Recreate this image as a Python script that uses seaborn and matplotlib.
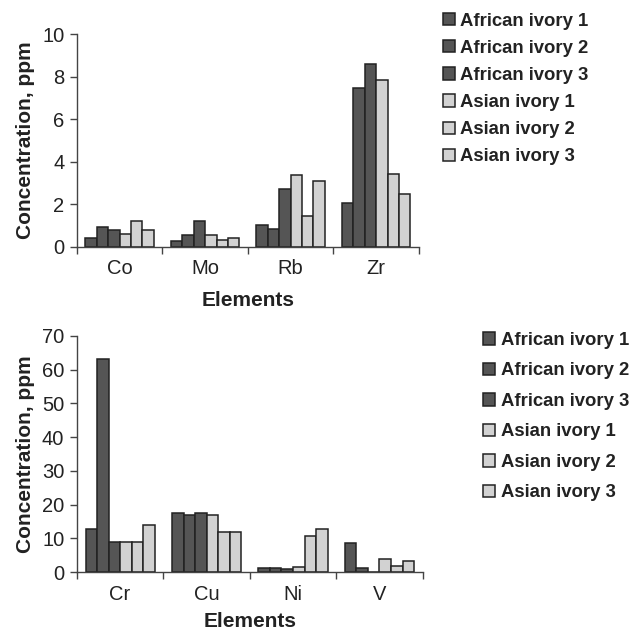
import numpy as np
import pandas as pd
import matplotlib
matplotlib.use("Agg")
import matplotlib.pyplot as plt
import seaborn as sns

sns.set_theme(style="white")
plt.rcParams["font.family"] = ["Liberation Sans", "DejaVu Sans"]

samples = ["African ivory 1", "African ivory 2", "African ivory 3",
           "Asian ivory 1", "Asian ivory 2", "Asian ivory 3"]

# Trace elements (upper panel)
elements_low = ["Co", "Mo", "Rb", "Zr"]
low_african_1 = [0.44, 0.27, 1.02, 2.07]
low_african_2 = [0.94, 0.58, 0.83, 7.45]
low_african_3 = [0.78, 1.21, 2.74, 8.57]
low_asian_1 = [0.63, 0.58, 3.39, 7.82]
low_asian_2 = [1.21, 0.34, 1.44, 3.43]
low_asian_3 = [0.78, 0.44, 3.12, 2.51]

# Higher-concentration elements (lower panel)
elements_high = ["Cr", "Cu", "Ni", "V"]
high_african_1 = [12.9, 17.6, 1.2, 8.6]
high_african_2 = [63.0, 16.9, 1.2, 1.1]
high_african_3 = [8.9, 17.6, 0.8, 0.0]
high_asian_1 = [8.9, 16.8, 1.6, 3.8]
high_asian_2 = [8.9, 12.0, 10.7, 1.9]
high_asian_3 = [13.9, 12.0, 12.9, 3.4]

dark = "#555555"
light = "#d2d2d2"
palette = [dark, dark, dark, light, light, light]


def long_table(elements, series):
    rows = []
    for name, vals in zip(samples, series):
        for el, v in zip(elements, vals):
            rows.append({"Element": el, "Sample": name, "Value": v})
    return pd.DataFrame(rows)


df_low = long_table(elements_low, [low_african_1, low_african_2, low_african_3,
                                   low_asian_1, low_asian_2, low_asian_3])
df_high = long_table(elements_high, [high_african_1, high_african_2, high_african_3,
                                     high_asian_1, high_asian_2, high_asian_3])

fig = plt.figure(figsize=(6.3, 6.3), dpi=100)
ax1 = fig.add_axes([0.122, 0.608, 0.543, 0.338])
ax2 = fig.add_axes([0.122, 0.092, 0.549, 0.375])


def draw(ax, df, elements, ymax, ystep, legend_anchor, spacing, xpad):
    sns.barplot(data=df, x="Element", y="Value", hue="Sample", order=elements,
                hue_order=samples, palette=palette, width=0.8,
                edgecolor="#222222", linewidth=1.1, saturation=1,
                errorbar=None, ax=ax)
    ax.set_xlim(-0.5, len(elements) - 0.5)
    ax.set_ylim(0, ymax)
    ax.set_yticks(np.arange(0, ymax + 1, ystep))
    ax.set_xticks(np.arange(len(elements)))
    ax.set_xticks(np.arange(-0.5, len(elements)), minor=True)
    ax.tick_params(axis="x", which="major", length=0, labelsize=14.5, pad=9,
                   colors="#222222")
    ax.tick_params(axis="x", which="minor", length=5, width=1, direction="out",
                   color="#444444", bottom=True)
    ax.tick_params(axis="y", length=5, width=1, direction="out", left=True,
                   labelsize=14.5, color="#444444", labelcolor="#222222", pad=4)
    for side in ("top", "right"):
        ax.spines[side].set_visible(False)
    for side in ("left", "bottom"):
        ax.spines[side].set_color("#444444")
        ax.spines[side].set_linewidth(1.0)
    ax.set_xlabel("Elements", fontsize=15, fontweight="bold", labelpad=xpad,
                  color="#222222")
    ax.set_ylabel("Concentration, ppm", fontsize=15, fontweight="bold",
                  labelpad=5, color="#222222")
    handles, labels = ax.get_legend_handles_labels()
    ax.get_legend().remove()
    leg = fig.legend(handles, labels, loc="upper left",
                     bbox_to_anchor=legend_anchor, frameon=False,
                     prop={"size": 13.3, "weight": "bold"},
                     handlelength=0.65, handleheight=0.65, handletextpad=0.3,
                     labelspacing=spacing, borderpad=0, borderaxespad=0)
    for t in leg.get_texts():
        t.set_color("#222222")


draw(ax1, df_low, elements_low, 10, 2, (0.703, 0.980), 0.55, 9)
draw(ax2, df_high, elements_high, 70, 10, (0.767, 0.473), 0.73, 6)

fig.savefig("out.png", dpi=100)
